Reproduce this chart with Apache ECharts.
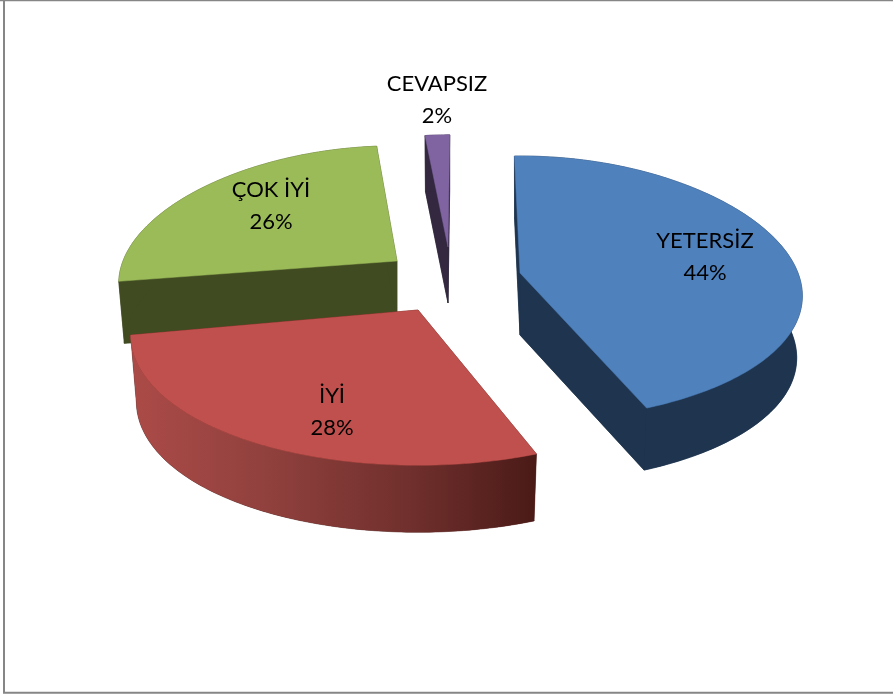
<!DOCTYPE html>
<html><head><meta charset="utf-8">
<style>html,body{margin:0;padding:0;background:#fff}#c{width:893px;height:695px}</style>
<script src="https://cdn.jsdelivr.net/npm/echarts@6/dist/echarts.min.js"></script>
</head><body><div id="c"></div>
<script>
var categories = ['YETERSİZ', 'İYİ', 'ÇOK İYİ', 'CEVAPSIZ'];
var values = [44, 28, 26, 2];

// Look of each slice in the tilted, exploded pie (apex = where the slice's point lands).
var topColors  = ['#4f81bd', '#c0504d', '#9bbb59', '#8064a2'];
var wallColors = ['#1f344f', '#4f1c18', '#414b22', '#33283f'];
var apexes = [[520, 273], [418, 310], [397, 261], [448, 247]];
var radiiX = [278, 283, 274, 240];
var radiiY = [132.5, 139, 130.5, 127];
var depths = [62, 67, 62, 56];
var angleShift = [-1.4, 0.6, 2, 0.5];
var drawOrder = [1, 3, 1, 2];
var labelOffsets = [[185, -16], [-86, 102], [-126, -55], [-11, -147]];

var PERSP_X = 0.18, PERSP_Y = 0.117, BOTTOM_SHRINK = 0.98;
var total = values.reduce(function (a, b) { return a + b; }, 0);

function project(i, deg, bottom) {
  var t = deg * Math.PI / 180, s = Math.sin(t), c = -Math.cos(t);
  var dx = radiiX[i] * s * (1 + PERSP_X * c);
  var dy = radiiY[i] * c * (1 + PERSP_Y * c);
  if (bottom) return [apexes[i][0] + dx * BOTTOM_SHRINK, apexes[i][1] + dy + depths[i]];
  return [apexes[i][0] + dx, apexes[i][1] + dy];
}
function arc(i, a0, a1, bottom) {
  var pts = [], n = Math.max(2, Math.ceil(Math.abs(a1 - a0)));
  for (var k = 0; k <= n; k++) pts.push(project(i, a0 + (a1 - a0) * k / n, bottom));
  return pts;
}
function poly(points, fill, z2) {
  return { type: 'polygon', z2: z2, silent: true, shape: { points: points },
           style: { fill: fill, stroke: typeof fill === 'string' ? fill : null, lineWidth: typeof fill === 'string' ? 0.5 : 0 } };
}
function renderSlice(params, api) {
  var i = params.dataIndex, before = 0;
  for (var j = 0; j < i; j++) before += values[j];
  var value = api.value(0);
  var a0 = before / total * 360 + angleShift[i];
  var a1 = a0 + value / total * 360;
  var z = drawOrder[i] * 10;
  var wall = wallColors[i];
  var top = [apexes[i]].concat(arc(i, a0, a1, false));
  var botApex = [apexes[i][0], apexes[i][1] + depths[i]];
  var bot = [botApex].concat(arc(i, a0, a1, true));
  var wallFill = wall;
  if (i === 1) {
    wallFill = new echarts.graphic.LinearGradient(0, 0, 1, 0, [
      { offset: 0, color: '#ac4b48' }, { offset: 0.35, color: '#8f403d' },
      { offset: 0.7, color: '#6f2f2c' }, { offset: 1, color: '#4a1a17' }
    ]);
  }
  var strip = arc(i, a0, a1, false).concat(arc(i, a1, a0, true));
  var children = [
    poly(bot, wall, z),
    poly([apexes[i], project(i, a0, false), project(i, a0, true), botApex], wall, z),
    poly([apexes[i], project(i, a1, false), project(i, a1, true), botApex], wall, z),
    poly(strip, wallFill, z + 1),
    poly(top, topColors[i], z + 2),
    { type: 'text', z2: 100, silent: true,
      x: apexes[i][0] + labelOffsets[i][0], y: apexes[i][1] + labelOffsets[i][1],
      style: { text: categories[i] + '\n' + Math.round(value / total * 100) + '%',
               font: '22px Lato', fill: '#000', lineHeight: 32, align: 'center', verticalAlign: 'middle' } }
  ];
  return { type: 'group', children: children };
}

var chart = echarts.init(document.getElementById('c'), null, { renderer: 'canvas', width: 893, height: 695 });
chart.setOption({
  animation: false,
  backgroundColor: '#fff',
  xAxis: { show: false }, yAxis: { show: false },
  graphic: [
    { type: 'line', silent: true, shape: { x1: 0, y1: 0.6, x2: 893, y2: 0.6 }, style: { stroke: '#868686', lineWidth: 1.3 } },
    { type: 'line', silent: true, shape: { x1: 4, y1: 0, x2: 4, y2: 693 }, style: { stroke: '#868686', lineWidth: 2 } },
    { type: 'line', silent: true, shape: { x1: 3, y1: 692.7, x2: 893, y2: 692.7 }, style: { stroke: '#868686', lineWidth: 2 } }
  ],
  series: [{
    type: 'custom',
    coordinateSystem: 'none',
    renderItem: renderSlice,
    data: values.map(function (v, i) { return { name: categories[i], value: [v] }; })
  }]
});
</script></body></html>
